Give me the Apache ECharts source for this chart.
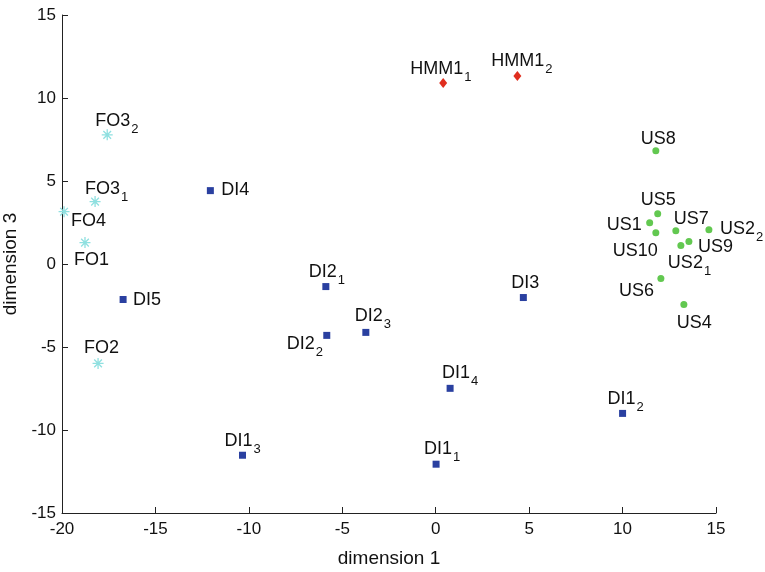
<!DOCTYPE html>
<html>
<head>
<meta charset="utf-8">
<script src="https://cdn.jsdelivr.net/npm/echarts@6/dist/echarts.min.js"></script>
<style>
  html, body { margin: 0; padding: 0; background: #fff; }
  #chart { width: 765px; height: 572px; }
</style>
</head>
<body>
<div id="chart"></div>
<script>
// ---- data (dimension 1 vs dimension 3) ----
var foNames = ['FO3', 'FO3', 'FO4', 'FO1', 'FO2'];
var foSubs  = ['2', '1', '', '', ''];
var foX     = [-17.58, -18.23, -19.89, -18.77, -18.07];
var foY     = [7.78, 3.76, 3.15, 1.29, -5.99];

var diNames = ['DI4', 'DI5', 'DI2', 'DI2', 'DI2', 'DI3', 'DI1', 'DI1', 'DI1', 'DI1'];
var diSubs  = ['', '', '1', '2', '3', '', '4', '1', '3', '2'];
var diX     = [-12.06, -16.73, -5.88, -5.83, -3.74, 4.69, 0.77, 0.02, -10.34, 10.0];
var diY     = [4.42, -2.14, -1.36, -4.30, -4.12, -2.02, -7.49, -12.06, -11.52, -9.0];

var hmmNames = ['HMM1', 'HMM1'];
var hmmSubs  = ['1', '2'];
var hmmX     = [0.40, 4.37];
var hmmY     = [10.91, 11.33];

var usNames = ['US8', 'US5', 'US1', 'US10', 'US7', 'US2', 'US9', 'US2', 'US6', 'US4'];
var usSubs  = ['', '', '', '', '', '2', '', '1', '', ''];
var usX     = [11.78, 11.88, 11.45, 11.78, 12.85, 14.62, 13.55, 13.12, 12.05, 13.28];
var usY     = [6.82, 3.03, 2.49, 1.89, 2.01, 2.07, 1.35, 1.11, -0.87, -2.44];

// label placement (px from the marker: text start, text middle)
var foLabelPos  = [[-12, -14], [-10, -13], [7, 9], [-11, 17], [-14, -15]];
var diLabelPos  = [[11, -1], [10, 1], [-17, -15], [-40, 9], [-11, -16], [-12, -15], [-8, -15], [-12, -15], [-18, -14], [-15, -14]];
var hmmLabelPos = [[-33, -14], [-26, -15]];
var usLabelPos  = [[-15, -12], [-17, -14], [-43, 2], [-43, 18], [-2, -12], [11, -1], [9, 5], [-13, 17], [-42, 13], [-7, 19]];

var FONT = 'Liberation Sans, Arial, Helvetica, sans-serif';
var INK = '#111';

function buildData(names, subs, xs, ys, pos) {
    return names.map(function(n, i) {
        return {
            value: [xs[i], ys[i]],
            name: n,
            label: {
                offset: pos[i],
                formatter: subs[i] ? '{m|' + n + '}{s|' + subs[i] + '}' : '{m|' + n + '}'
            }
        };
    });
}

var labelBase = {
    show: true,
    position: 'inside',
    align: 'left',
    verticalAlign: 'middle',
    rich: {
        m: { fontSize: 18, lineHeight: 30, color: INK, fontFamily: FONT },
        s: { fontSize: 13, lineHeight: 12, color: INK, fontFamily: FONT, verticalAlign: 'bottom', padding: [0, 0, 0, 1] }
    }
};

var starPath = 'path://M5,0L5,10M0,5L10,5M1.5,1.5L8.5,8.5M1.5,8.5L8.5,1.5';

var myChart = echarts.init(document.getElementById('chart'), null, { renderer: 'canvas' });

var option = {
    animation: false,
    backgroundColor: '#fff',
    grid: { left: 62, right: 49, top: 15, bottom: 59, outerBoundsMode: 'none' },
    xAxis: {
        type: 'value',
        min: -20, max: 15, interval: 5,
        name: 'dimension 1',
        nameLocation: 'middle',
        nameGap: 36,
        nameTextStyle: { fontSize: 19, color: INK, fontFamily: FONT },
        axisLine: { onZero: false, lineStyle: { color: '#222', width: 1 } },
        axisTick: { inside: true, length: 6, lineStyle: { color: '#222' } },
        axisLabel: { fontSize: 17, color: INK, fontFamily: FONT, margin: 8 },
        splitLine: { show: false }
    },
    yAxis: {
        type: 'value',
        min: -15, max: 15, interval: 5,
        name: 'dimension 3',
        nameLocation: 'middle',
        nameGap: 31,
        nameTextStyle: { fontSize: 19, color: INK, fontFamily: FONT },
        axisLine: { onZero: false, lineStyle: { color: '#222', width: 1 } },
        axisTick: { inside: true, length: 6, lineStyle: { color: '#222' } },
        axisLabel: { fontSize: 17, color: INK, fontFamily: FONT, margin: 6 },
        splitLine: { show: false }
    },
    series: [
        {
            name: 'FO', type: 'scatter',
            symbol: starPath, symbolSize: 11,
            itemStyle: { color: 'rgba(0,0,0,0)', borderColor: '#8fe0e0', borderWidth: 1.3, opacity: 1 },
            label: labelBase,
            data: buildData(foNames, foSubs, foX, foY, foLabelPos)
        },
        {
            name: 'DI', type: 'scatter',
            symbol: 'rect', symbolSize: 7,
            itemStyle: { color: '#2a40a0', opacity: 1 },
            label: labelBase,
            data: buildData(diNames, diSubs, diX, diY, diLabelPos)
        },
        {
            name: 'HMM', type: 'scatter',
            symbol: 'diamond', symbolSize: [8, 10],
            itemStyle: { color: '#e02e1e', opacity: 1 },
            label: labelBase,
            data: buildData(hmmNames, hmmSubs, hmmX, hmmY, hmmLabelPos)
        },
        {
            name: 'US', type: 'scatter',
            symbol: 'circle', symbolSize: 7,
            itemStyle: { color: '#62c850', opacity: 1 },
            label: labelBase,
            data: buildData(usNames, usSubs, usX, usY, usLabelPos)
        }
    ]
};
myChart.setOption(option);

window.addEventListener('resize', function() {
    myChart.resize();
});
</script>
</body>
</html>
